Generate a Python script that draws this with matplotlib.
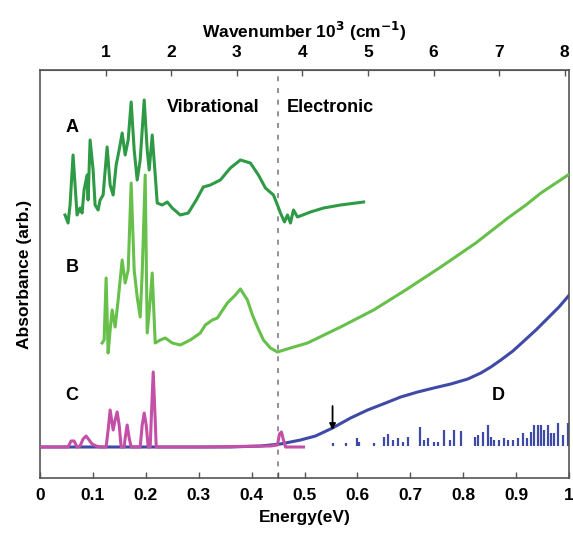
import numpy as np
import matplotlib
matplotlib.use("Agg")
import matplotlib.pyplot as plt

plt.rcParams["font.family"] = ["Liberation Sans", "DejaVu Sans"]
plt.rcParams["font.weight"] = "bold"

# readings from the reference: energy (eV) and absorbance (arb., offset traces)
PX0, PX1, PY0 = 40.0, 528.0, 478.0


def ev(px):
    return (np.asarray(px, dtype=float) - PX0) / PX1


def ab(py):
    return (PY0 - np.asarray(py, dtype=float)) / 100.0


# trace A (dark green)
a_px = [65, 68, 70, 73, 75, 77, 80, 82, 84, 87, 88, 90, 93, 95, 98, 100, 103, 107, 110,
        113, 116, 119, 122, 125, 128, 131, 134, 137, 140, 144, 147, 149, 152, 155, 157,
        162, 167, 172, 180, 188, 196, 203, 210, 220, 230, 240, 250, 258, 265, 273, 277,
        280, 284, 287, 290, 293, 297, 310, 323, 340, 363]
a_py = [215, 223, 205, 155, 185, 215, 208, 213, 190, 175, 200, 140, 170, 205, 210, 200,
        195, 147, 185, 195, 165, 150, 133, 155, 140, 102, 150, 180, 160, 100, 150, 170,
        135, 175, 203, 205, 202, 208, 215, 213, 200, 187, 185, 180, 168, 160, 163, 175,
        188, 195, 205, 213, 222, 215, 223, 210, 217, 212, 208, 205, 202]

# trace B (light green)
b_px = [102, 104, 106, 108, 110, 112, 115, 118, 122, 125, 128, 131, 134, 137, 140, 142,
        145, 147, 150, 152, 154, 155, 160, 165, 172, 180, 190, 200, 205, 212, 217, 227,
        235, 240, 247, 252, 257, 263, 270, 277, 290, 307, 340, 373, 405, 440, 475, 507,
        525, 540, 555, 570]
b_py = [343, 340, 278, 353, 330, 310, 327, 300, 260, 283, 270, 183, 270, 297, 317, 273,
        175, 333, 300, 273, 320, 343, 340, 338, 343, 345, 340, 333, 325, 320, 318, 303,
        295, 289, 300, 315, 327, 340, 348, 352, 348, 343, 327, 310, 290, 267, 243, 218,
        205, 193, 183, 173]

# trace C (magenta, computed vibrational spectrum)
c_px = [40, 68, 71, 74, 77, 80, 83, 86, 89, 92, 96, 100, 106, 108, 110, 113, 115, 117,
        119, 121, 124, 125, 127, 129, 131, 140, 142, 144, 146, 148, 150, 151, 153, 155,
        156, 200, 270, 277, 279, 281, 283, 285, 303]
c_py = [447, 447, 441, 441, 447, 446, 439, 436, 440, 444, 446, 447, 447, 430, 410, 430,
        420, 412, 425, 447, 447, 438, 425, 438, 447, 447, 425, 413, 425, 447, 447, 420,
        372, 420, 447, 447, 446, 445, 434, 432, 440, 447, 447]

# trace D (blue, electronic absorption)
d_px = [40, 230, 260, 280, 300, 315, 332, 350, 367, 385, 400, 417, 433, 450, 467, 480,
        490, 500, 512, 523, 535, 545, 558, 570]
d_py = [447, 447, 446, 444, 440, 436, 428, 418, 410, 403, 397, 392, 388, 384, 379, 373,
        367, 360, 351, 341, 330, 320, 307, 293]

# stick spectrum under D
stick_px = [332, 345, 356, 358, 373, 383, 387, 392, 397, 402, 407, 419, 423, 427, 433,
            437, 443, 449, 453, 460, 474, 477, 482, 487, 490, 493, 498, 503, 507, 512,
            517, 522, 526, 530, 533, 537, 540, 543, 547, 550, 553, 557, 562, 567, 570]
stick_py = [443, 443, 438, 442, 443, 437, 434, 440, 438, 442, 437, 427, 440, 438, 442,
            442, 430, 440, 430, 431, 437, 435, 432, 425, 437, 440, 440, 438, 440, 440,
            438, 433, 438, 432, 425, 425, 425, 430, 425, 433, 433, 423, 435, 423, 437]
stick_base_py = 446

EV_TO_KCM = 8.06554

fig = plt.figure(figsize=(5.73, 5.35), dpi=100)
ax = fig.add_axes([40 / 573, 57 / 535, 529 / 573, 408 / 535])

ax.plot(ev(a_px), ab(a_py), color="#2e9a45", lw=2.2, zorder=3)
ax.plot(ev(b_px), ab(b_py), color="#66c04a", lw=2.2, zorder=3)
ax.plot(ev(d_px), ab(d_py), color="#3e4aa6", lw=2.2, zorder=2)
ax.plot(ev(c_px), ab(c_py), color="#c34fa6", lw=2.2, zorder=4)
ax.vlines(ev(stick_px), ab(stick_base_py), ab(stick_py), color="#3e4aa6", lw=1.6, zorder=2)

ax.axvline(0.45, color="#8a7a8a", lw=1.2, ls=(0, (3, 4)), zorder=1)

ax.annotate("", xy=(ev(332), ab(430)), xytext=(ev(332), ab(406)),
            arrowprops=dict(arrowstyle="-|>", color="black", lw=1.3,
                            mutation_scale=9, shrinkA=0, shrinkB=0))

lab = dict(fontsize=13, fontweight="bold", ha="center", va="center")
ax.text(ev(72), ab(128), "A", **lab)
ax.text(ev(72), ab(268), "B", **lab)
ax.text(ev(72), ab(395), "C", **lab)
ax.text(ev(497), ab(395), "D", **lab)
ax.text(ev(213), ab(108), "Vibrational", **lab)
ax.text(ev(330), ab(108), "Electronic", **lab)

ax.set_xlim(0, 1)
ax.set_ylim(0, 4.08)
ax.set_xticks(np.round(np.arange(0, 1.01, 0.1), 1))
ax.set_xticklabels(["0", "0.1", "0.2", "0.3", "0.4", "0.5", "0.6", "0.7", "0.8", "0.9", "1"])
ax.set_xticks([0.45], minor=True)
ax.set_yticks([])
ax.tick_params(axis="x", which="both", direction="in", length=4, width=1.0,
               labelsize=12.5, pad=7, color="#555555")
ax.set_xlabel("Energy(eV)", fontsize=12.5, fontweight="bold", labelpad=5)
ax.set_ylabel("Absorbance (arb.)", fontsize=12.5, fontweight="bold", labelpad=6)
for sp in ax.spines.values():
    sp.set_color("#555555")
    sp.set_linewidth(1.2)

top = ax.secondary_xaxis("top", functions=(lambda x: x * EV_TO_KCM, lambda k: k / EV_TO_KCM))
top.set_xticks(np.arange(1, 9))
top.tick_params(direction="in", length=4, width=1.0, labelsize=12.5, pad=7, color="#555555")
top.set_xlabel("Wavenumber 10$^3$ (cm$^{-1}$)", fontsize=12.5, fontweight="bold", labelpad=5)
top.spines["top"].set_color("#555555")

fig.savefig("out.png", dpi=100, facecolor="white")
